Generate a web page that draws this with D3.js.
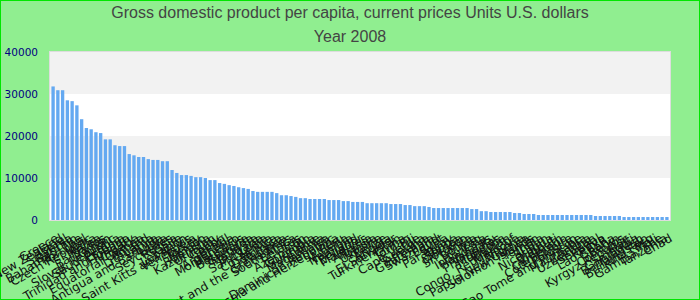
<!DOCTYPE html>
<html>
<head>
<meta charset="utf-8">
<script src="https://cdn.jsdelivr.net/npm/d3@7"></script>
<style>
  body { margin: 0; }
  svg { display: block; }
</style>
</head>
<body>
<svg id="chart" width="700" height="300"></svg>
<script>
const countries = [
  "Greece", "New Zealand", "Israel", "Slovenia", "Bahrain", "Bahamas, The", "Portugal",
  "Czech Republic", "Malta", "Korea", "Barbados", "Oman", "Slovak Republic", "Saudi Arabia",
  "Estonia", "Trinidad and Tobago", "Hungary", "Croatia", "Equatorial Guinea", "Poland",
  "Lithuania", "Latvia", "Antigua and Barbuda", "Libya", "Seychelles", "Russia", "Chile",
  "Lebanon", "Saint Kitts and Nevis", "Venezuela", "Turkey", "Mexico", "Romania",
  "Kazakhstan", "Uruguay", "Gabon", "Brazil", "Argentina", "Montenegro", "Mauritius",
  "Botswana", "Grenada", "Malaysia", "Bulgaria", "Saint Lucia", "Serbia", "Costa Rica",
  "Dominica", "Panama", "Saint Vincent and the Grenadines", "South Africa", "Belarus",
  "Iran", "Azerbaijan", "Colombia", "Suriname", "Macedonia", "Jamaica",
  "Dominican Republic", "Bosnia and Herzegovina", "Peru", "Algeria", "Namibia",
  "Thailand", "Ecuador", "Maldives", "Albania", "Tunisia", "Ukraine", "Belize", "Angola",
  "El Salvador", "Turkmenistan", "China", "Jordan", "Fiji", "Cape Verde", "Georgia",
  "Armenia", "Guatemala", "Swaziland", "Egypt", "Syria", "Paraguay", "Tonga", "Samoa",
  "Morocco", "Sri Lanka", "Bolivia", "Iraq", "Indonesia", "Honduras", "Vanuatu",
  "Philippines", "Mongolia", "Bhutan", "Congo, Republic of", "Moldova", "Nigeria",
  "Papua New Guinea", "Solomon Islands", "Yemen", "India", "Sudan", "Nicaragua",
  "Djibouti", "Vietnam", "Cameroon", "Côte d'Ivoire", "Pakistan", "Sao Tome and Principe",
  "Mauritania", "Zambia", "Uzbekistan", "Senegal", "Kenya", "Lao P.D.R.", "Ghana", "Benin",
  "Comoros", "Kyrgyz Republic", "Haiti", "Cambodia", "Bangladesh", "Tajikistan",
  "Burkina Faso", "Mali", "Gambia, The", "Tanzania", "Chad"
];

const gdpPerCapita = [
  31800, 30900, 30900, 28500, 28300, 27300, 24000, 21900, 21600, 20900, 20700, 19200, 19200,
  17800, 17600, 17600, 15700, 15400, 15000, 15000, 14500, 14300, 14300, 14000, 14000,
  11900, 11200, 10700, 10700, 10500, 10200, 10200, 10000, 9500, 9500, 8800, 8600, 8300,
  8100, 7800, 7600, 7400, 6900, 6700, 6700, 6700, 6700, 6400, 5900, 5900,
  5700, 5500, 5200, 5200, 5000, 5000, 5000, 5000, 4750, 4750, 4750, 4500, 4500, 4300,
  4300, 4300, 4000, 4000, 4000, 4000, 4000, 3800, 3800, 3800, 3560,
  3560, 3300, 3300, 3300, 3100, 2850, 2850, 2850, 2850, 2850, 2850, 2850, 2850, 2600, 2600,
  2100, 2100, 1900, 1900, 1900, 1900, 1900, 1660, 1660, 1430, 1430, 1430, 1190,
  1190, 1190, 1190, 1190, 1190, 1190, 1190, 1190, 1190, 1190, 1190,
  950, 950, 950, 950, 950, 950,
  710, 710, 710, 710, 710, 710, 710, 710, 710, 710
];

const yTicks = [0, 10000, 20000, 30000, 40000];
const titleLines = ["Gross domestic product per capita, current prices Units U.S. dollars", "Year 2008"];

const width = 700, height = 300;
const margin = {top: 52, right: 30, bottom: 80, left: 50};

let svg = d3.select("#chart");

// background + outer border
svg.append("rect")
  .attr("x", 0.5).attr("y", 0.5)
  .attr("width", width - 1).attr("height", height - 1)
  .attr("fill", "#90ee90")
  .attr("stroke", "#00e600");

let xScale = d3.scaleBand()
  .domain(countries)
  .range([margin.left, width - margin.right])
  .paddingInner(0.3)
  .paddingOuter(0.3);

let yScale = d3.scaleLinear()
  .domain([0, 40000])
  .range([height - margin.bottom, margin.top]);

// alternating grid bands
svg.selectAll("rect.band")
  .data(d3.pairs(yTicks))
  .enter()
  .append("rect")
  .attr("class", "band")
  .attr("x", margin.left)
  .attr("y", function(d) { return yScale(d[1]); })
  .attr("width", width - margin.left - margin.right)
  .attr("height", function(d) { return yScale(d[0]) - yScale(d[1]); })
  .attr("fill", function(d, i) { return i % 2 == 0 ? "#ffffff" : "#f2f2f2"; });

svg.append("rect")
  .attr("x", margin.left - 0.5)
  .attr("y", margin.top - 0.5)
  .attr("width", width - margin.left - margin.right + 1)
  .attr("height", height - margin.top - margin.bottom + 1)
  .attr("fill", "none")
  .attr("stroke", "#dddddd");

svg.selectAll("rect.bar")
  .data(gdpPerCapita)
  .enter()
  .append("rect")
  .attr("class", "bar")
  .attr("x", function(d, i) { return xScale(countries[i]); })
  .attr("y", function(d) { return yScale(d); })
  .attr("width", xScale.bandwidth())
  .attr("height", function(d) { return yScale(0) - yScale(d); })
  .attr("fill", "#64a9f1");

let yAxis = d3.axisLeft(yScale).tickValues(yTicks).tickFormat(d3.format("d"))
  .tickSize(0).tickPadding(12);
let gy = svg.append("g")
  .attr("transform", "translate(" + margin.left + ",0)")
  .call(yAxis);
gy.select(".domain").remove();
gy.selectAll("text")
  .attr("fill", "#000080")
  .style("font-family", "DejaVu Sans")
  .style("font-size", "10.5px");

let xAxis = d3.axisBottom(xScale).tickSize(0).tickPadding(0);
let gx = svg.append("g")
  .attr("transform", "translate(0," + yScale(0) + ")")
  .call(xAxis);
gx.select(".domain").remove();
gx.selectAll("text")
  .attr("y", 0)
  .attr("dy", "0.35em")
  .attr("fill", "#111")
  .attr("text-anchor", "end")
  .attr("transform", "translate(4,17) rotate(-30)")
  .style("font-family", "DejaVu Sans")
  .style("font-size", "12px");

svg.selectAll("text.title")
  .data(titleLines)
  .enter()
  .append("text")
  .attr("class", "title")
  .attr("x", width / 2)
  .attr("y", function(d, i) { return 18 + i * 24; })
  .attr("text-anchor", "middle")
  .attr("fill", "#444")
  .style("font-family", "Liberation Sans")
  .style("font-size", "16px")
  .text(function(d) { return d; });
</script>
</body>
</html>
